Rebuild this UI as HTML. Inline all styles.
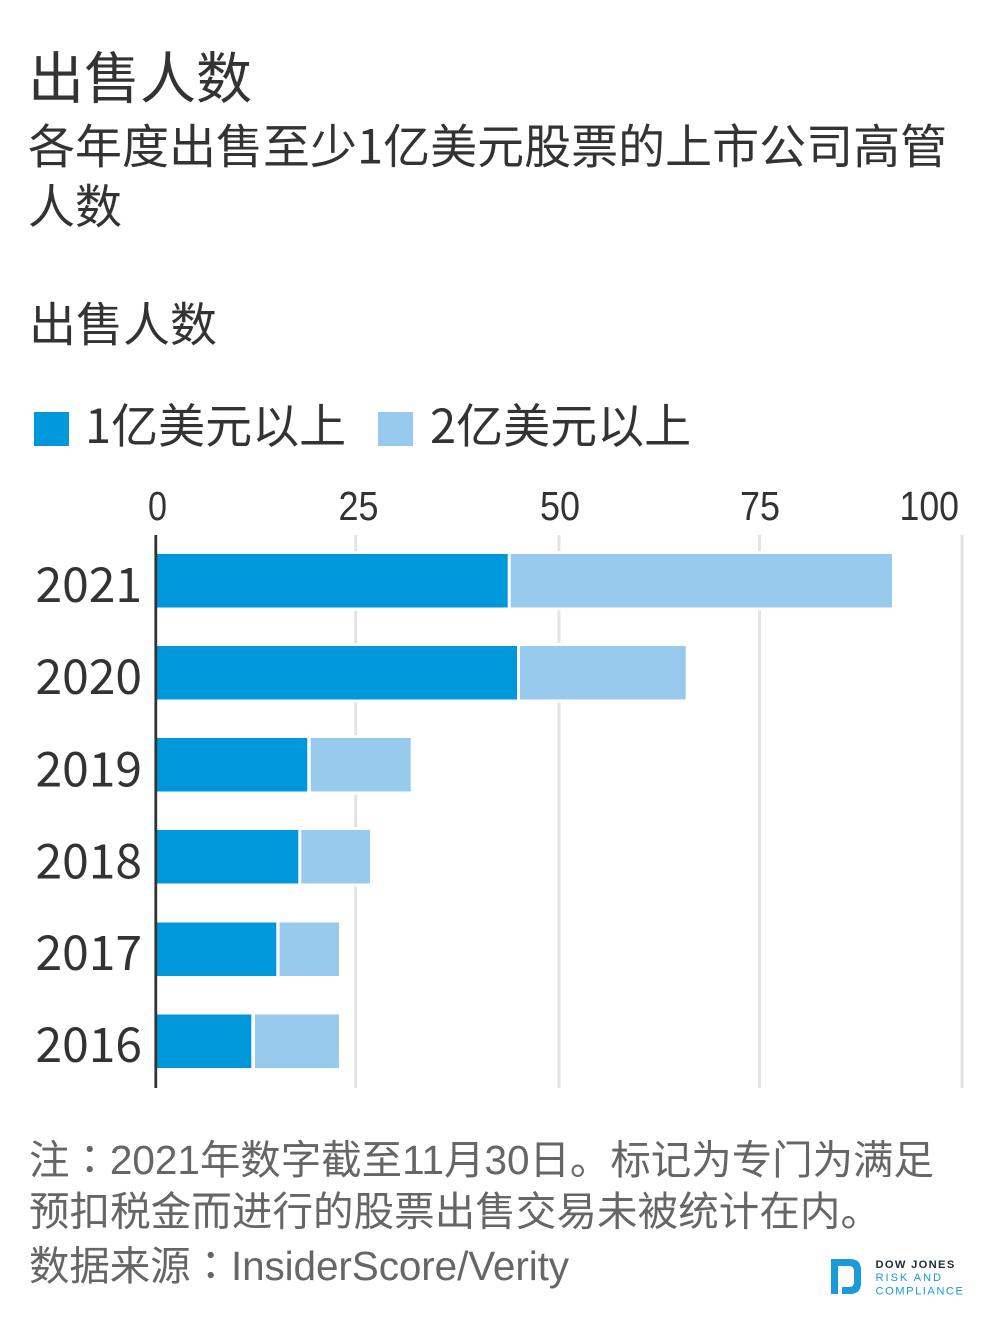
<!DOCTYPE html>
<html>
<head>
<meta charset="utf-8">
<style>
html,body{margin:0;padding:0;background:#fff;}
svg{display:block;}
.cjk{font-family:"Noto Sans CJK SC","Liberation Sans",sans-serif;}
.lat{font-family:"Liberation Sans","Noto Sans CJK SC",sans-serif;}
.jp{font-family:"Noto Sans CJK JP","Noto Sans CJK SC",sans-serif;}
</style>
</head>
<body>
<svg width="998" height="1330" viewBox="0 0 998 1330" xmlns="http://www.w3.org/2000/svg">
<rect x="0" y="0" width="998" height="1330" fill="#fff"/>

<!-- Titles -->
<text class="cjk" x="28" y="98.5" font-size="56" fill="#333">出售人数</text>
<text class="cjk" x="28" y="163.5" font-size="47" fill="#333">各年度出售至少1亿美元股票的上市公司高管</text>
<text class="cjk" x="28" y="223.5" font-size="47" fill="#333">人数</text>
<text class="cjk" x="29" y="341.5" font-size="47" fill="#333">出售人数</text>

<!-- Legend -->
<rect x="34" y="412" width="35" height="34" fill="#0098da"/>
<text class="cjk" x="85" y="443" font-size="47" fill="#333">1亿美元以上</text>
<rect x="378" y="412" width="35" height="34" fill="#97caed"/>
<text class="cjk" x="430" y="443" font-size="47" fill="#333">2亿美元以上</text>

<!-- Tick labels -->
<g class="lat" font-size="41" fill="#333">
<text x="148" y="520" textLength="19" lengthAdjust="spacingAndGlyphs">0</text>
<text x="338.5" y="520" textLength="40" lengthAdjust="spacingAndGlyphs">25</text>
<text x="540" y="520" textLength="40" lengthAdjust="spacingAndGlyphs">50</text>
<text x="740" y="520" textLength="40" lengthAdjust="spacingAndGlyphs">75</text>
<text x="899.5" y="520" textLength="59.5" lengthAdjust="spacingAndGlyphs">100</text>
</g>

<!-- Gridlines -->
<g stroke="#e3e3e3" stroke-width="3">
<line x1="355.7" y1="535" x2="355.7" y2="1088"/>
<line x1="559" y1="535" x2="559" y2="1088"/>
<line x1="759.5" y1="535" x2="759.5" y2="1088"/>
<line x1="962" y1="535" x2="962" y2="1088"/>
</g>

<!-- Bars -->
<g>
<rect x="157" y="551" width="738" height="59.5" fill="#fff"/>
<rect x="157" y="554" width="350.7" height="53.5" fill="#0098da"/>
<rect x="510.7" y="554" width="381.3" height="53.5" fill="#97caed"/>

<rect x="157" y="643" width="532" height="59.5" fill="#fff"/>
<rect x="157" y="646" width="360" height="53.5" fill="#0098da"/>
<rect x="520" y="646" width="165.7" height="53.5" fill="#97caed"/>

<rect x="157" y="735" width="257" height="59.5" fill="#fff"/>
<rect x="157" y="738" width="150.3" height="53.5" fill="#0098da"/>
<rect x="310.7" y="738" width="100" height="53.5" fill="#97caed"/>

<rect x="157" y="827" width="216" height="59.5" fill="#fff"/>
<rect x="157" y="830" width="141.3" height="53.5" fill="#0098da"/>
<rect x="301.3" y="830" width="68.7" height="53.5" fill="#97caed"/>

<rect x="157" y="919.5" width="185" height="59.5" fill="#fff"/>
<rect x="157" y="922.5" width="119.3" height="53.5" fill="#0098da"/>
<rect x="279.6" y="922.5" width="59.4" height="53.5" fill="#97caed"/>

<rect x="157" y="1011.5" width="185" height="59.5" fill="#fff"/>
<rect x="157" y="1014.5" width="94.3" height="53.5" fill="#0098da"/>
<rect x="255" y="1014.5" width="84" height="53.5" fill="#97caed"/>
</g>

<!-- Axis line -->
<line x1="155.8" y1="535" x2="155.8" y2="1088" stroke="#333" stroke-width="2.8"/>

<!-- Year labels -->
<g class="cjk" font-size="48" fill="#333" text-anchor="end">
<text x="142" y="602">2021</text>
<text x="142" y="694">2020</text>
<text x="142" y="786.5">2019</text>
<text x="142" y="878.5">2018</text>
<text x="142" y="970">2017</text>
<text x="142" y="1062">2016</text>
</g>

<!-- Footer -->
<g class="lat" font-size="40.5" fill="#666">
<text x="29" y="1174" textLength="905">注<tspan class="jp">：</tspan>2021年数字截至11月30日。标记为专门为满足</text>
<text x="29" y="1225.5" textLength="852">预扣税金而进行的股票出售交易未被统计在内。</text>
<text x="29" y="1280" textLength="540">数据来源<tspan class="jp">：</tspan>InsiderScore/Verity</text>
</g>

<!-- Logo -->
<g fill="#1a9ad6">
<rect x="831" y="1259" width="7" height="35"/>
<path d="M838 1259 H850 Q861 1259 861 1270 V1283 Q861 1294 850 1294 H842 V1287 H849 Q854 1287 854 1282 V1271 Q854 1266 849 1266 H838 Z"/>
</g>
<text class="lat" x="875.5" y="1268" font-size="11.2" font-weight="bold" fill="#1d2b36" letter-spacing="1.3">DOW JONES</text>
<text class="lat" x="875.5" y="1281" font-size="11.2" fill="#1a9ad6" letter-spacing="1.9">RISK AND</text>
<text class="lat" x="875.5" y="1294.5" font-size="11.2" fill="#1a9ad6" letter-spacing="1.5">COMPLIANCE</text>
</svg>
</body>
</html>
